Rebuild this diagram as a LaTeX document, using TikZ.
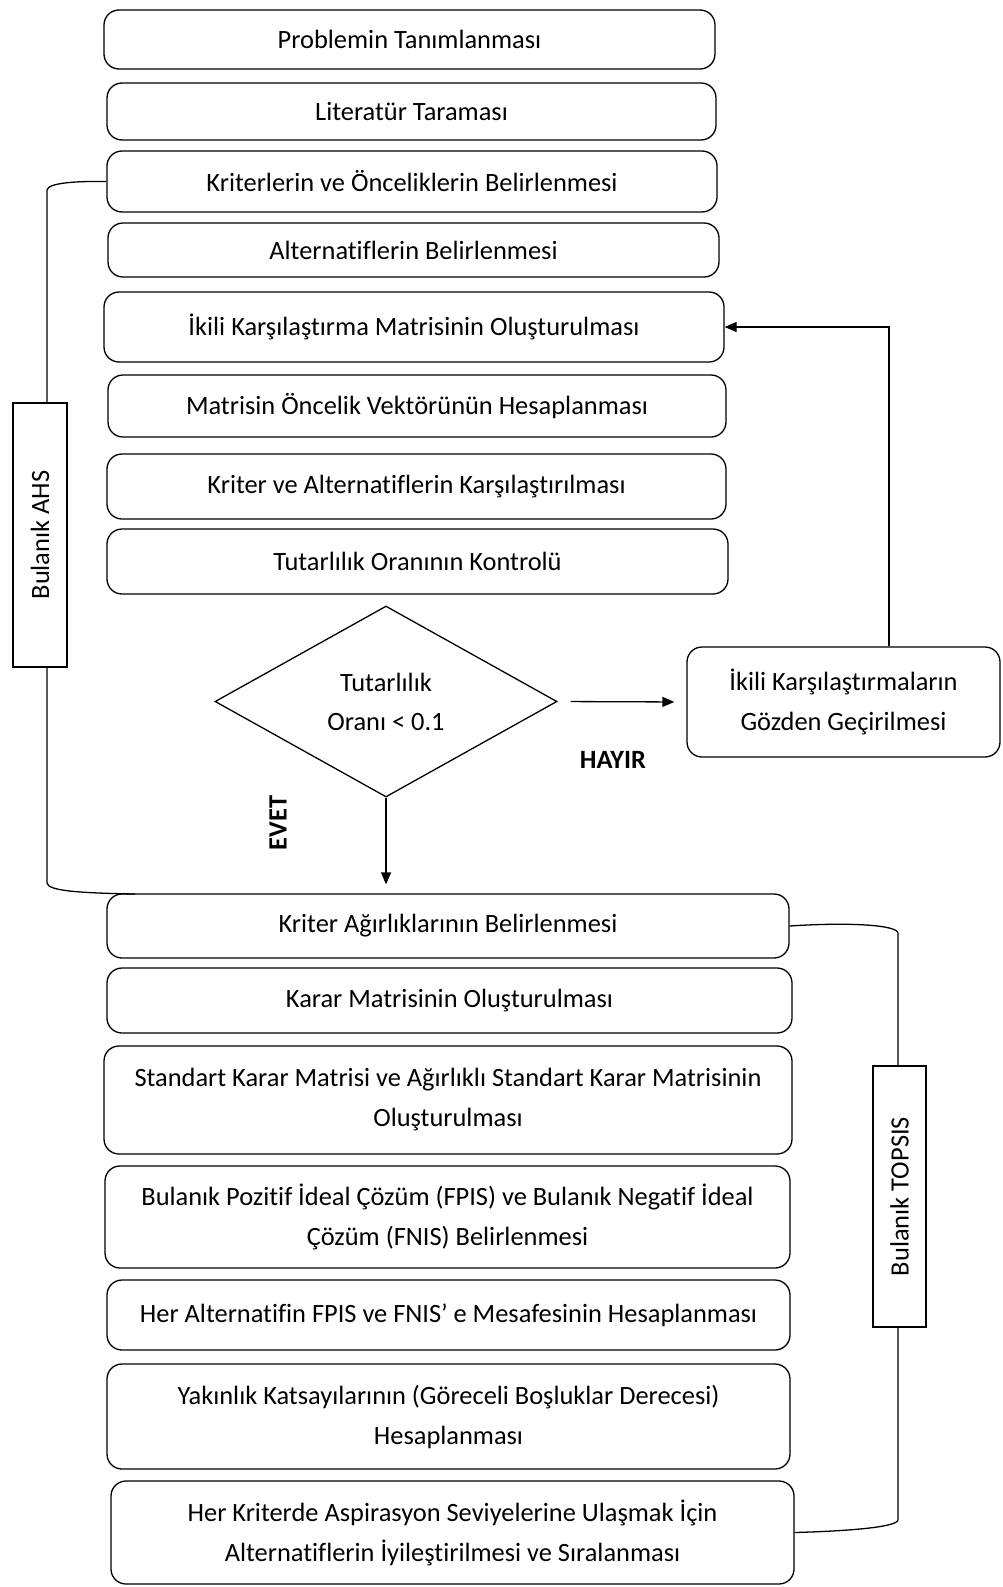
\documentclass[tikz,border=0pt]{standalone}
\usepackage{fontspec}
\setmainfont[Ligatures=NoCommon]{Carlito}
\usetikzlibrary{shapes.geometric,arrows.meta}
\tikzset{
  box/.style={draw, line width=1.3pt, rounded corners=15pt, align=center, inner sep=2pt,
    font=\fontsize{26.4}{40}\selectfont},
  sidebox/.style={draw, line width=1.3pt, fill=white, inner sep=0pt},
  sidetxt/.style={rotate=90, font=\fontsize{26.4}{32}\selectfont},
  conn/.style={line width=1.3pt},
  arr/.style={line width=1.3pt, -{Triangle[length=12pt,width=10pt]}},
  lbl/.style={font=\fontsize{26.4}{32}\selectfont\bfseries},
}
\begin{document}
\begin{tikzpicture}[x=1pt,y=-1pt]
\useasboundingbox (0,0) rectangle (1003,1587);
% AHS part
\node[box, minimum width=611pt, minimum height=59pt] (b1) at (409.5,39.5) {Problemin Tanımlanması};
\node[box, minimum width=609pt, minimum height=57pt] (b2) at (411.5,111.5) {Literatür Taraması};
\node[box, minimum width=610pt, minimum height=61pt] (b3) at (412,181.5) {Kriterlerin ve Önceliklerin Belirlenmesi};
\node[box, minimum width=611pt, minimum height=54pt] (b4) at (413.5,250) {Alternatiflerin Belirlenmesi};
\node[box, minimum width=620pt, minimum height=70pt] (b5) at (414,327) {İkili Karşılaştırma Matrisinin Oluşturulması};
\node[box, minimum width=618pt, minimum height=62pt] (b6) at (417,406) {Matrisin Öncelik Vektörünün Hesaplanması};
\node[box, minimum width=619pt, minimum height=65pt] (b7) at (416.5,486.5) {Kriter ve Alternatiflerin Karşılaştırılması};
\node[box, minimum width=621pt, minimum height=65pt] (b8) at (417.5,561.5) {Tutarlılık Oranının Kontrolü};
\node[draw, diamond, line width=1.3pt, aspect=1.79, inner sep=0pt, minimum width=342pt, minimum height=191pt,
  align=center, font=\fontsize{26.4}{39}\selectfont] (dia) at (386,701.5) {Tutarlılık\\Oranı < 0.1};
\node[box, minimum width=313pt, minimum height=110pt] (rev) at (843.5,702) {İkili Karşılaştırmaların\\Gözden Geçirilmesi};
% TOPSIS part
\node[box, minimum width=682pt, minimum height=64pt] (b9) at (448,926) {Kriter Ağırlıklarının Belirlenmesi};
\node[box, minimum width=685pt, minimum height=65pt] (b10) at (449.5,1000.5) {Karar Matrisinin Oluşturulması};
\node[box, minimum width=688pt, minimum height=108pt] (b11) at (448,1100) {Standart Karar Matrisi ve Ağırlıklı Standart Karar Matrisinin\\Oluşturulması};
\node[box, minimum width=685pt, minimum height=102pt] (b12) at (447.5,1217) {Bulanık Pozitif İdeal Çözüm (FPIS) ve Bulanık Negatif İdeal\\Çözüm (FNIS) Belirlenmesi};
\node[box, minimum width=683pt, minimum height=70pt] (b13) at (448.5,1315) {Her Alternatifin FPIS ve FNIS’ e Mesafesinin Hesaplanması};
\node[box, minimum width=683pt, minimum height=105pt] (b14) at (448.5,1416.5) {Yakınlık Katsayılarının (Göreceli Boşluklar Derecesi)\\Hesaplanması};
\node[box, minimum width=683pt, minimum height=103pt] (b15) at (452.5,1532.5) {Her Kriterde Aspirasyon Seviyelerine Ulaşmak İçin\\Alternatiflerin İyileştirilmesi ve Sıralanması};
% connectors
\draw[arr, shorten <=13pt, shorten >=12pt] (dia.east) -- (rev.west);
\draw[arr, shorten >=9pt] (dia.south) -- (dia.south |- b9.north);
\draw[arr] ([xshift=45.5pt]rev.north) |- (b5.east);
% brackets
\coordinate (la) at (47,190);
\coordinate (lb) at (47,883);
\coordinate (ra) at (898,933);
\coordinate (rb) at (898,1520);
\draw[conn] (b3.west) .. controls (75,181) and (48,183) .. (la) -- (lb) .. controls (48,891) and (80,893) .. (135,894);
\draw[conn] (b9.east) .. controls (850,922) and (897,925) .. (ra) -- (rb) .. controls (897,1527) and (850,1531) .. (b15.east);
\node[sidebox, minimum width=54pt, minimum height=264pt] (ahs) at (40,535) {};
\node[sidetxt] (ahst) at (ahs.center) {Bulanık AHS};
\node[sidebox, minimum width=53pt, minimum height=261pt] (top) at (899.5,1196.5) {};
\node[sidetxt] (topt) at (top.center) {Bulanık TOPSIS};
% labels
\node[lbl] (hayir) at (613,760) {HAYIR};
\node[lbl, rotate=90] (evet) at (278,823) {EVET};
\end{tikzpicture}
\end{document}
